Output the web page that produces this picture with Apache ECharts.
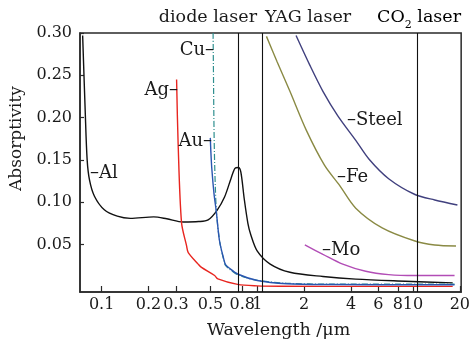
<!DOCTYPE html>
<html>
<head>
<meta charset="utf-8">
<script src="https://cdn.jsdelivr.net/npm/echarts@6/dist/echarts.min.js"></script>
<style>html,body{margin:0;padding:0;background:#fff}#c{width:473px;height:344px}</style>
</head>
<body>
<div id="c"></div>
<script>
// Tick labels (wavelength, um) and absorptivity ticks
var xTicks = [0.1, 0.2, 0.3, 0.5, 0.8, 1, 2, 4, 6, 8, 10, 20];
var yTicks = [0.05, 0.10, 0.15, 0.20, 0.25, 0.30];

// Series values: [wavelength (um), absorptivity]
var alData = [[0.0755,0.297],[0.0784,0.208],[0.0807,0.150],[0.0836,0.126],[0.0899,0.107],[0.104,0.091],[0.126,0.0834],[0.153,0.0808],[0.216,0.0826],[0.262,0.0803],[0.334,0.0765],[0.42,0.077],[0.483,0.079],[0.55,0.09],[0.616,0.106],[0.678,0.128],[0.718,0.140],[0.755,0.141],[0.784,0.1355],[0.824,0.104],[0.87,0.075],[0.907,0.0617],[1.0,0.042],[1.21,0.0267],[1.62,0.017],[2.64,0.012],[4.29,0.0089],[8.9,0.0065],[18,0.0045]];
var agData = [[0.303,0.245],[0.31,0.169],[0.326,0.0757],[0.351,0.0485],[0.36,0.0403],[0.417,0.0267],[0.438,0.0228],[0.532,0.0132],[0.558,0.0092],[0.747,0.0027],[1.0,0.001],[1.4,0.0005],[5,0.0003],[18,0.0003]];
var auData = [[0.499,0.176],[0.503,0.16],[0.51,0.14],[0.527,0.11],[0.545,0.089],[0.572,0.054],[0.61,0.032],[0.625,0.026],[0.66,0.022],[0.747,0.015],[1.0,0.0073],[1.55,0.0034],[3,0.0025],[18.5,0.0022]];
var cuData = [[0.52,0.30],[0.523,0.25],[0.526,0.20],[0.53,0.16],[0.537,0.12],[0.548,0.085],[0.575,0.052],[0.61,0.031],[0.625,0.025],[0.66,0.021],[0.75,0.014],[1.0,0.0075],[1.55,0.004],[3,0.003],[18.5,0.003]];
var steelData = [[1.774,0.297],[2.174,0.262],[2.64,0.231],[3.29,0.202],[4.29,0.173],[5.21,0.151],[6.98,0.1277],[10.3,0.109],[13.8,0.1025],[19.3,0.0966]];
var feData = [[1.145,0.296],[1.34,0.266],[1.62,0.231],[2.07,0.1845],[2.70,0.1437],[3.37,0.12],[4.29,0.0928],[6.34,0.0695],[10.3,0.054],[13.8,0.0493],[18.9,0.0481]];
var moData = [[2.02,0.0493],[2.64,0.0383],[3.54,0.0267],[4.97,0.0182],[6.98,0.0143],[10.3,0.0132],[18.5,0.0132]];

// Laser wavelengths (vertical lines)
var laserLines = [0.76, 1.064, 10.6];

var FONT = 'DejaVu Serif';
var lg = function (v) { return Math.log10(v); };
var toLog = function (arr) { return arr.map(function (p) { return [lg(p[0]), p[1]]; }); };

var chart = echarts.init(document.getElementById('c'), null, {renderer: 'canvas'});

function line(name, data, color, extra) {
  return {
    name: name, type: 'line', data: toLog(data), symbol: 'none',
    smooth: 0.3,
    lineStyle: Object.assign({color: color, width: 1.4}, extra || {}),
    z: 3
  };
}

var series = [
  line('Al', alData, '#111111'),
  line('Ag', agData, '#e8251f'),
  line('Cu', cuData, '#2f8f8f', {type: [6, 2, 1, 2], width: 1.2}),
  line('Au', auData, '#2a56b0'),
  line('Steel', steelData, '#40407e'),
  line('Fe', feData, '#8a8a44'),
  line('Mo', moData, '#b24db6')
];
series.push({
  type: 'line', data: [], silent: true,
  markLine: {
    silent: true, symbol: 'none', label: {show: false},
    lineStyle: {color: '#111', width: 1.1, type: 'solid'},
    data: laserLines.map(function (v) { return {xAxis: lg(v)}; })
  }
});

var xTickPos = xTicks.map(lg);
function xLabel(v) {
  var best = 0, d = 1e9;
  for (var i = 0; i < xTicks.length; i++) {
    var dd = Math.abs(xTickPos[i] - v);
    if (dd < d) { d = dd; best = i; }
  }
  return String(xTicks[best]);
}

function gtext(str, x, y, align, size) {
  return {type: 'text', x: x, y: y, z: 10,
    style: {text: str, textAlign: align, textVerticalAlign: 'middle',
      fontFamily: FONT, fontSize: size || 18, fill: '#1a1a1a'}};
}

chart.setOption({
  animation: false,
  backgroundColor: '#ffffff',
  grid: {left: 80, right: 6, top: 33, bottom: 49, show: true, borderColor: '#2a2a2a', borderWidth: 1.5, backgroundColor: 'transparent'},
  xAxis: {
    type: 'value', min: lg(0.0726), max: lg(20.4),
    name: 'Wavelength /\u03bcm', nameLocation: 'middle', nameGap: 29,
    nameTextStyle: {fontFamily: FONT, fontSize: 17.5, color: '#1a1a1a', padding: [0, 0, 0, 16]},
    axisLine: {onZero: false, lineStyle: {color: '#2a2a2a', width: 1.5}},
    axisTick: {inside: true, length: 6, customValues: xTickPos, lineStyle: {color: '#2a2a2a', width: 1.2}},
    axisLabel: {customValues: xTickPos, fontFamily: FONT, fontSize: 16, color: '#1a1a1a', margin: 5,
      formatter: xLabel},
    splitLine: {show: false}
  },
  yAxis: {
    type: 'value', min: -0.0063, max: 0.30,
    name: 'Absorptivity', nameLocation: 'middle', nameGap: 55,
    nameTextStyle: {fontFamily: FONT, fontSize: 17, color: '#1a1a1a', padding: [0, 0, 0, 48]},
    axisLine: {show: true, onZero: false, lineStyle: {color: '#2a2a2a', width: 1.5}},
    axisTick: {show: true, inside: true, length: 4, customValues: yTicks, lineStyle: {color: '#2a2a2a', width: 1.2}},
    axisLabel: {customValues: yTicks, fontFamily: FONT, fontSize: 16, color: '#1a1a1a', margin: 8,
      formatter: function (v) { return v.toFixed(2); }},
    splitLine: {show: false}
  },
  graphic: [
    gtext('diode laser', 257, 17, 'right', 17.5),
    gtext('YAG laser', 265, 17, 'left', 17.5),
    {type: 'text', x: 377, y: 17, z: 10,
      style: {text: '{a|CO}{b|2}{a| laser}', textAlign: 'left', textVerticalAlign: 'middle',
        rich: {a: {fontFamily: FONT, fontSize: 17.5, color: '#1a1a1a', lineHeight: 20},
               b: {fontFamily: FONT, fontSize: 11, color: '#1a1a1a', verticalAlign: 'bottom', lineHeight: 10, padding: [0, 0, -4, 0]}}}},
    gtext('Cu\u2013', 214, 50, 'right'),
    gtext('Ag\u2013', 178, 90, 'right'),
    gtext('Au\u2013', 212, 141, 'right'),
    gtext('\u2013Al', 90, 173, 'left'),
    gtext('\u2013Steel', 347, 120, 'left'),
    gtext('\u2013Fe', 337, 177, 'left'),
    gtext('\u2013Mo', 322, 250, 'left')
  ],
  series: series
});
</script>
</body>
</html>
